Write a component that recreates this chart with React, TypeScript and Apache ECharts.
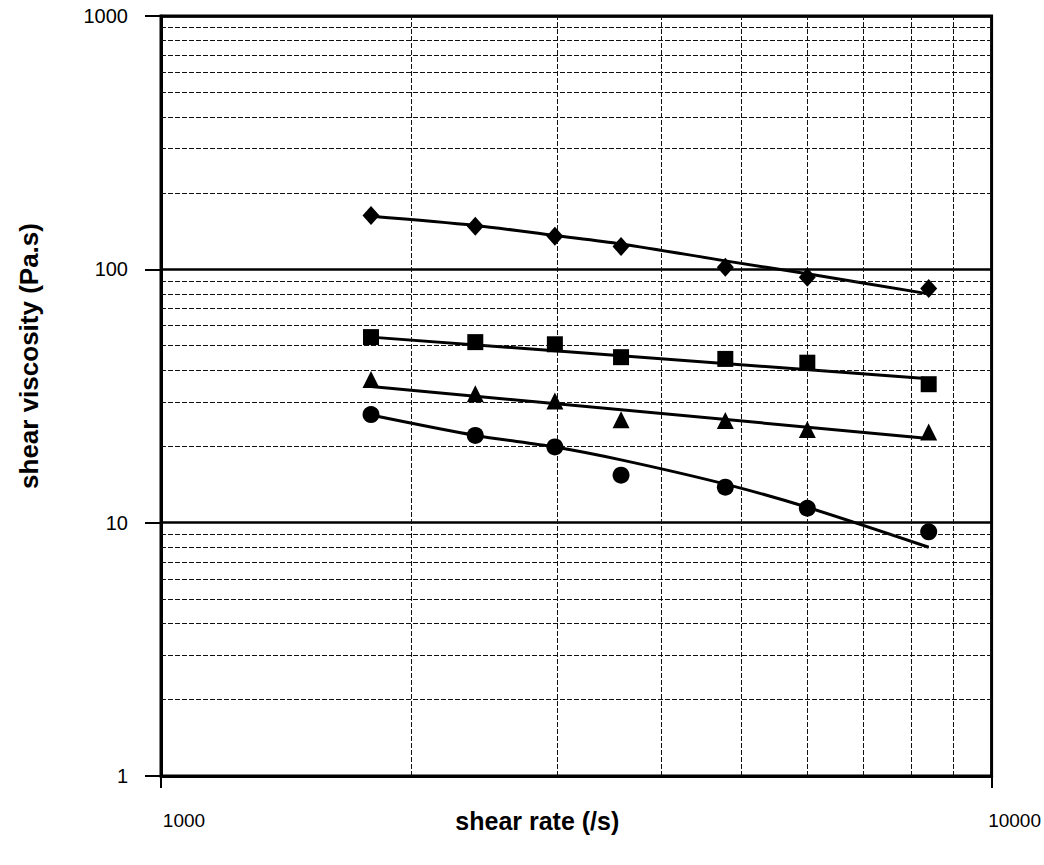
import React, { useEffect, useRef } from "react";
import * as echarts from "echarts";

// shear rate (/s) at which each point was measured
const shearRate = [1790, 2390, 2980, 3580, 4780, 6000, 8400];
// shear viscosity (Pa.s) for the four samples
const diamondVisc = [163, 148, 135, 123, 102, 93, 84];
const squareVisc = [54, 51.6, 50.6, 45, 44.3, 42.8, 35.2];
const triangleVisc = [36.7, 32.3, 30.2, 25.5, 25.3, 23.3, 22.8];
const circleVisc = [26.7, 22.1, 19.9, 15.4, 13.8, 11.4, 9.2];

// fitted trend lines
const diamondFit = [162, 149, 136, 126, 108, 96, 80];
const circleFit = [26.6, 22.1, 19.9, 17.7, 14.2, 11.5, 8.0];
const lineEndRates = [1790, 8400];
const squareFit = [54, 37];
const triangleFit = [34.5, 21.5];

// axis tick values
const yTicks = [1, 10, 100, 1000];
const xTicks = [1000, 10000];
const minorSteps = [2, 3, 4, 5, 6, 7, 8, 9];
const yDecades = [1, 10, 100];
const xDecades = [1000];

const FONT = "'Liberation Sans', Arial, sans-serif";

function pairs(xs: number[], ys: number[]) {
  return xs.map((x, i) => [x, ys[i]]);
}

export default function App() {
  const ref = useRef<HTMLDivElement>(null);

  useEffect(() => {
    if (!ref.current) return;
    const chart = echarts.init(ref.current, undefined, { renderer: "svg" });

    const minorY: any[] = [];
    yDecades.forEach((d) => minorSteps.forEach((m) => minorY.push({ yAxis: m * d })));
    const minorX: any[] = [];
    xDecades.forEach((d) => minorSteps.forEach((m) => minorX.push({ xAxis: m * d })));

    const markerBase = {
      type: "scatter",
      itemStyle: { color: "#000", opacity: 1 },
      z: 5,
    };
    const fitBase = {
      type: "line",
      showSymbol: false,
      symbol: "none",
      lineStyle: { color: "#000", width: 3 },
      z: 4,
    };

    chart.setOption({
      animation: false,
      backgroundColor: "#fff",
      grid: {
        left: 161,
        right: 47,
        top: 16,
        bottom: 89,
        show: true,
        borderColor: "#000",
        borderWidth: 3,
        backgroundColor: "transparent",
      },
      xAxis: {
        type: "log",
        logBase: 10,
        min: xTicks[0],
        max: xTicks[xTicks.length - 1],
        axisLine: { show: true, lineStyle: { color: "#000", width: 3 } },
        axisTick: { show: true, length: 12, lineStyle: { color: "#000", width: 2 } },
        axisLabel: {
          formatter: (v: number) => String(Math.round(v)),
          fontSize: 19,
          color: "#000",
          fontFamily: FONT,
          margin: 35,
          padding: [0, 0, 0, 46],
        },
        splitLine: { show: false },
        name: "shear rate (/s)",
        nameLocation: "middle",
        nameGap: 32,
        nameMoveOverlap: false,
        nameTextStyle: {
          fontSize: 25,
          fontWeight: "bold",
          fontFamily: FONT,
          color: "#000",
          padding: [0, 78, 0, 0],
        },
      },
      yAxis: {
        type: "log",
        logBase: 10,
        min: yTicks[0],
        max: yTicks[yTicks.length - 1],
        axisLine: { show: true, lineStyle: { color: "#000", width: 3 } },
        axisTick: { show: true, length: 16, lineStyle: { color: "#000", width: 2 } },
        axisLabel: {
          formatter: (v: number) => String(Math.round(v)),
          fontSize: 20,
          color: "#000",
          fontFamily: FONT,
          margin: 33,
        },
        splitLine: { show: true, lineStyle: { color: "#000", width: 2.5, type: "solid" } },
        name: "shear viscosity (Pa.s)",
        nameLocation: "middle",
        nameGap: 119,
        nameMoveOverlap: false,
        nameTextStyle: {
          fontSize: 26,
          fontWeight: "bold",
          fontFamily: FONT,
          color: "#000",
          padding: [0, 0, 0, 80],
        },
      },
      series: [
        {
          type: "line",
          data: [[5000, 10]],
          showSymbol: false,
          symbol: "none",
          lineStyle: { opacity: 0 },
          silent: true,
          z: 1,
          markLine: {
            silent: true,
            symbol: ["none", "none"],
            label: { show: false },
            animation: false,
            lineStyle: { color: "#111", width: 1, type: [5, 2] },
            data: [...minorY, ...minorX],
          },
        },
        { ...fitBase, name: "diamond fit", data: pairs(shearRate, diamondFit), smooth: 0.3 },
        { ...fitBase, name: "square fit", data: pairs(lineEndRates, squareFit) },
        { ...fitBase, name: "triangle fit", data: pairs(lineEndRates, triangleFit) },
        { ...fitBase, name: "circle fit", data: pairs(shearRate, circleFit), smooth: 0.3 },
        { ...markerBase, name: "diamond", symbol: "diamond", symbolSize: [17, 19], data: pairs(shearRate, diamondVisc) },
        { ...markerBase, name: "square", symbol: "rect", symbolSize: 16, data: pairs(shearRate, squareVisc) },
        { ...markerBase, name: "triangle", symbol: "triangle", symbolSize: [17, 17], data: pairs(shearRate, triangleVisc) },
        { ...markerBase, name: "circle", symbol: "circle", symbolSize: 17, data: pairs(shearRate, circleVisc) },
      ],
    });

    return () => chart.dispose();
  }, []);

  return (
    <div
      ref={ref}
      style={{ position: "fixed", left: 0, top: 0, width: 1044, height: 865, background: "#fff" }}
    />
  );
}
